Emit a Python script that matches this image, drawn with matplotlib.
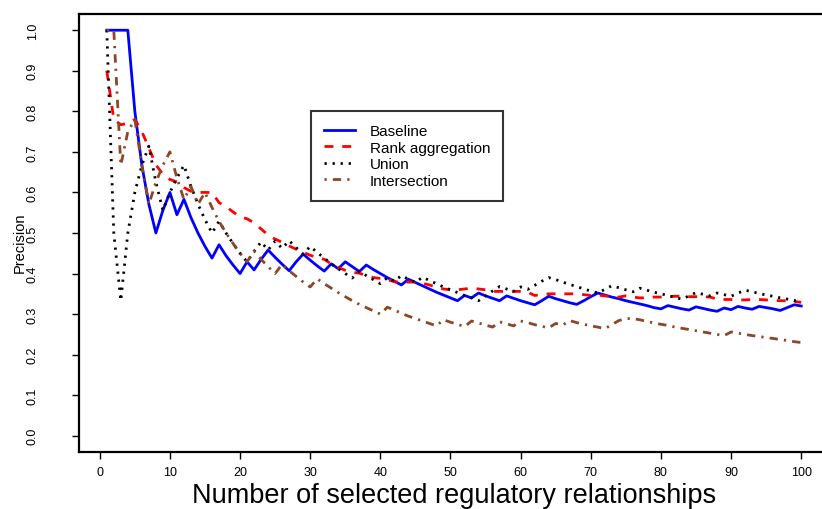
import matplotlib
matplotlib.use('Agg')
import matplotlib.pyplot as plt

# number of selected regulatory relationships (x) and precision curves
n_selected = list(range(1, 101))

baseline = [1.0, 1.0, 1.0, 1.0, 0.8, 0.667, 0.571, 0.5, 0.556, 0.6,
            0.545, 0.583, 0.538, 0.5, 0.467, 0.438, 0.471, 0.444, 0.421, 0.4,
            0.429, 0.409, 0.435, 0.458, 0.44, 0.423, 0.407, 0.429, 0.448, 0.433,
            0.419, 0.406, 0.424, 0.412, 0.429, 0.417, 0.405, 0.421, 0.41, 0.4,
            0.39, 0.381, 0.372, 0.386, 0.378, 0.37, 0.362, 0.354, 0.347, 0.34,
            0.333, 0.346, 0.34, 0.352, 0.345, 0.339, 0.333, 0.345, 0.339, 0.333,
            0.328, 0.323, 0.333, 0.344, 0.338, 0.333, 0.328, 0.324, 0.333, 0.343,
            0.352, 0.347, 0.342, 0.338, 0.333, 0.329, 0.325, 0.321, 0.316, 0.313,
            0.321, 0.317, 0.313, 0.31, 0.318, 0.314, 0.31, 0.307, 0.315, 0.311,
            0.319, 0.315, 0.312, 0.319, 0.316, 0.313, 0.309, 0.316, 0.323, 0.32]

rank_aggregation = [0.9, 0.78, 0.767, 0.77, 0.78, 0.75, 0.71, 0.668, 0.645, 0.632,
                    0.626, 0.612, 0.603, 0.6, 0.6, 0.6, 0.575, 0.565, 0.552, 0.54,
                    0.535, 0.525, 0.51, 0.495, 0.485, 0.477, 0.468, 0.46, 0.453, 0.445,
                    0.44, 0.435, 0.424, 0.415, 0.408, 0.403, 0.401, 0.395, 0.39, 0.388,
                    0.385, 0.38, 0.378, 0.379, 0.379, 0.376, 0.372, 0.366, 0.362, 0.36,
                    0.36, 0.362, 0.364, 0.362, 0.36, 0.356, 0.356, 0.356, 0.356, 0.356,
                    0.354, 0.346, 0.348, 0.35, 0.35, 0.35, 0.35, 0.35, 0.348, 0.346,
                    0.347, 0.345, 0.343, 0.342, 0.345, 0.342, 0.34, 0.34, 0.342, 0.342,
                    0.343, 0.344, 0.344, 0.343, 0.343, 0.343, 0.342, 0.337, 0.336, 0.336,
                    0.335, 0.335, 0.336, 0.336, 0.335, 0.334, 0.333, 0.333, 0.331, 0.329]

union = [1.0, 0.5, 0.333, 0.5, 0.6, 0.667, 0.714, 0.625, 0.556, 0.6,
         0.636, 0.667, 0.615, 0.571, 0.533, 0.5, 0.529, 0.5, 0.474, 0.45,
         0.429, 0.455, 0.478, 0.458, 0.48, 0.462, 0.481, 0.464, 0.448, 0.467,
         0.452, 0.438, 0.424, 0.412, 0.4, 0.389, 0.405, 0.395, 0.385, 0.375,
         0.39, 0.381, 0.395, 0.386, 0.378, 0.391, 0.383, 0.375, 0.367, 0.36,
         0.353, 0.346, 0.34, 0.333, 0.345, 0.357, 0.368, 0.362, 0.356, 0.367,
         0.361, 0.371, 0.381, 0.39, 0.385, 0.379, 0.373, 0.368, 0.362, 0.357,
         0.352, 0.361, 0.37, 0.365, 0.36, 0.355, 0.364, 0.359, 0.354, 0.35,
         0.346, 0.341, 0.337, 0.345, 0.353, 0.349, 0.345, 0.352, 0.348, 0.344,
         0.352, 0.359, 0.355, 0.351, 0.347, 0.344, 0.34, 0.337, 0.333, 0.34]

intersection = [1.0, 1.0, 0.667, 0.75, 0.78, 0.667, 0.571, 0.625, 0.667, 0.7,
                0.636, 0.583, 0.615, 0.571, 0.6, 0.563, 0.529, 0.5, 0.474, 0.45,
                0.429, 0.455, 0.435, 0.417, 0.4, 0.423, 0.407, 0.393, 0.379, 0.367,
                0.387, 0.375, 0.364, 0.353, 0.343, 0.333, 0.324, 0.316, 0.308, 0.3,
                0.317, 0.31, 0.302, 0.295, 0.289, 0.283, 0.277, 0.271, 0.286, 0.28,
                0.275, 0.269, 0.283, 0.278, 0.273, 0.268, 0.281, 0.276, 0.271, 0.283,
                0.279, 0.274, 0.27, 0.266, 0.277, 0.273, 0.284, 0.279, 0.275, 0.271,
                0.268, 0.264, 0.274, 0.284, 0.289, 0.289, 0.286, 0.282, 0.278, 0.275,
                0.272, 0.268, 0.265, 0.262, 0.259, 0.256, 0.253, 0.25, 0.247, 0.256,
                0.253, 0.25, 0.247, 0.245, 0.242, 0.24, 0.237, 0.235, 0.232, 0.23]

x_ticks = [0, 10, 20, 30, 40, 50, 60, 70, 80, 90, 100]
y_ticks = [0.0, 0.1, 0.2, 0.3, 0.4, 0.5, 0.6, 0.7, 0.8, 0.9, 1.0]

plt.rcParams['font.family'] = ['Liberation Sans', 'DejaVu Sans']

fig = plt.figure(figsize=(8.22, 5.10), dpi=100)
# plot box runs past the right edge of the picture, like the original
ax = fig.add_axes([79 / 822, 57 / 510, 750 / 822, 438 / 510])

ax.plot(n_selected, baseline, color='#0000FF', lw=2.0, label='Baseline')
ax.plot(n_selected, rank_aggregation, color='#FF0000', lw=2.0,
        linestyle=(0, (3.2, 3.2)), label='Rank aggregation')
ax.plot(n_selected, union, color='black', lw=2.0,
        linestyle=(0, (0.8, 2.1)), label='Union')
ax.plot(n_selected, intersection, color='#8B4726', lw=2.0,
        linestyle=(0, (0.8, 2.2, 3.0, 2.2)), label='Intersection')

ax.set_xlim(-2.96, 103.96)
ax.set_ylim(-0.04, 1.04)
ax.set_xticks(x_ticks)
ax.set_yticks(y_ticks)
ax.set_xticklabels([str(t) for t in x_ticks])
ax.set_yticklabels(['%.1f' % t for t in y_ticks], rotation=90, va='center')

for s in ax.spines.values():
    s.set_linewidth(1.6)
ax.tick_params(axis='both', direction='out', length=5, width=1.0,
               labelsize=9, color='black')
ax.tick_params(axis='y', pad=24)
ax.tick_params(axis='x', pad=5)

ax.set_xlabel('Number of selected regulatory relationships', fontsize=19.5,
              va='bottom')
ax.xaxis.set_label_coords(0.5, -0.1279)
ax.set_ylabel('Precision', fontsize=10.5)
ax.yaxis.set_label_coords(-0.069, 0.479)

leg = ax.legend(loc='upper left', bbox_to_anchor=(311 / 822, 1 - 112 / 510),
                bbox_transform=fig.transFigure, fontsize=11, frameon=True,
                fancybox=False, borderaxespad=0, borderpad=0.85,
                labelspacing=0.17, handlelength=2.0, handletextpad=1.0)
leg.get_frame().set_edgecolor('black')
leg.get_frame().set_linewidth(1.5)

fig.savefig('out.png', dpi=100)
